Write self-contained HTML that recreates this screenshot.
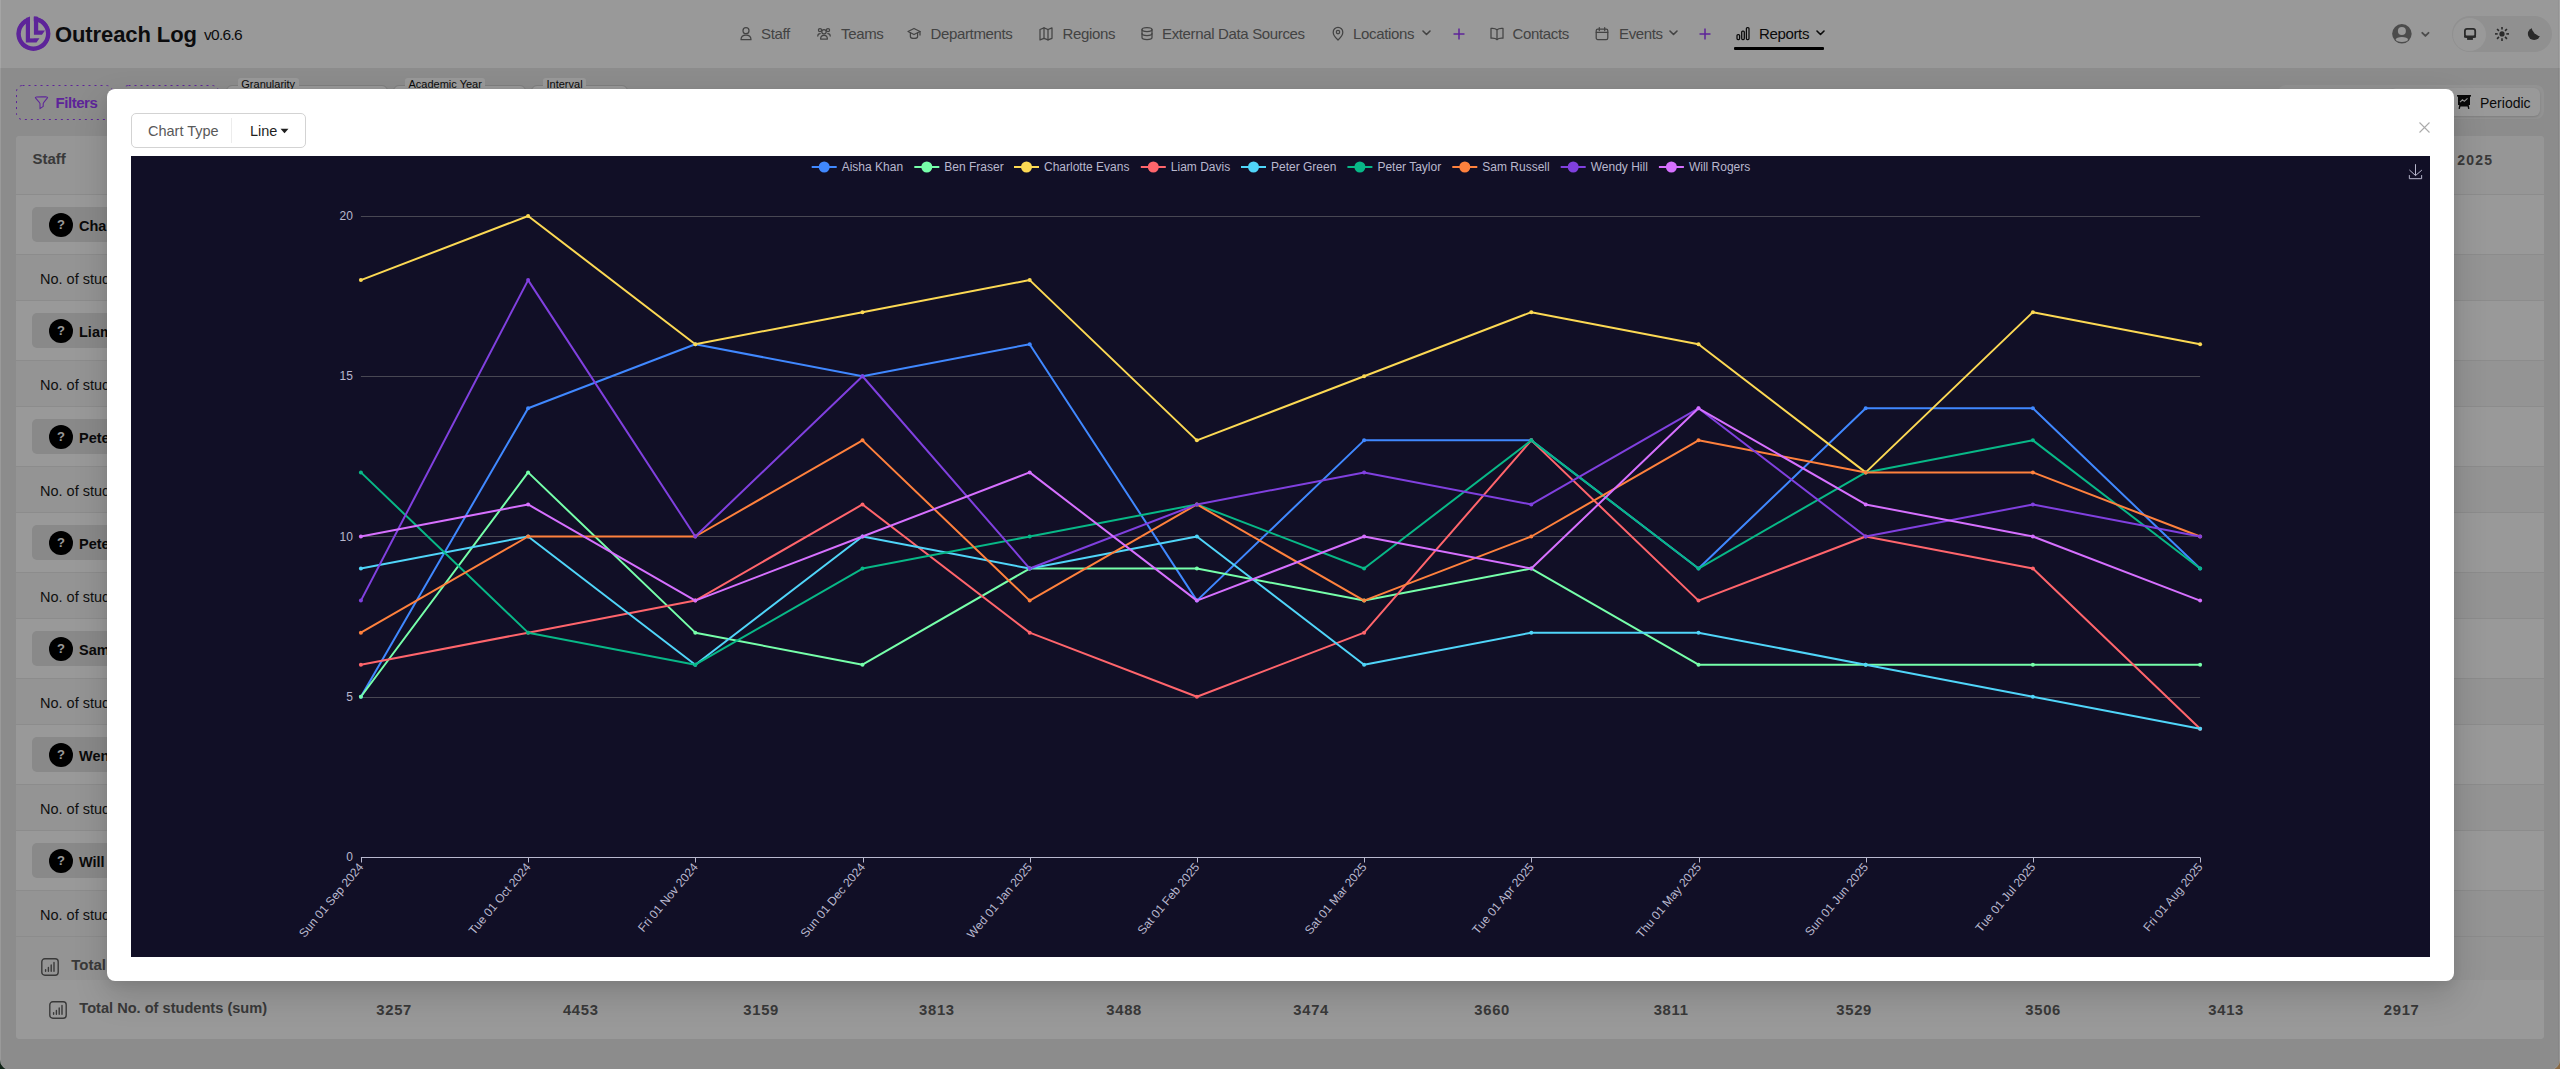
<!DOCTYPE html>
<html lang="en">
<head>
<meta charset="utf-8">
<title>Outreach Log</title>
<style>
*{box-sizing:border-box;margin:0;padding:0}
html,body{width:2560px;height:1069px;overflow:hidden}
body{position:relative;background:#e9e9e9;font-family:"Liberation Sans",Arial,sans-serif;color:#1f1f1f}
.abs{position:absolute}
#nav{left:0;top:0;width:2560px;height:68px;background:#fff}
.brand{left:55px;top:22px;font-size:22px;font-weight:700;color:#141518;letter-spacing:-0.1px;white-space:nowrap}
.ver{left:204px;top:25.5px;font-size:15.5px;letter-spacing:-0.7px;color:#141518;white-space:nowrap}
.ni{top:24px;font-size:15px;letter-spacing:-0.35px;color:#707070;white-space:nowrap;line-height:20px}
.ni svg{position:absolute}
.plus{top:24px;color:#9c3dff;font-size:20px;line-height:20px}
#main{left:0;top:68px;width:2560px;height:1001px;background:#e9e9e9}
.dash{border:1px dashed #9c3dff;border-radius:6px;background:transparent}
.sel{border:1px solid #d2d2d2;border-radius:6px;background:#fff}
.flab{font-size:11px;color:#111;background:#fff;padding:0 3.5px;line-height:13px;height:14px;border-radius:3px;white-space:nowrap}
#card{left:16px;top:136px;width:2528px;height:903px;background:#fff;border-radius:4px;overflow:hidden}
.row{position:absolute;left:0;width:2528px;border-top:1px solid #e9e9e9}
.tr{background:#fff}
.dr{background:#f7f7f7}
.tag{position:absolute;left:16px;height:35px;width:300px;background:#e4e4e4;border-radius:5px}
.q{position:absolute;left:17px;top:6px;width:24px;height:24px;border-radius:50%;background:#000;color:#fff;font-weight:700;font-size:13px;text-align:center;line-height:24px}
.tn{position:absolute;left:47px;top:11px;font-weight:700;font-size:14.5px;color:#111;white-space:nowrap}
.ds{position:absolute;left:24px;font-size:14.5px;color:#1a1a1a;white-space:nowrap}
.num{position:absolute;top:1002px;font-size:16px;font-weight:700;color:#444;white-space:nowrap}
#mask{left:0;top:0;width:2560px;height:1069px;background:rgba(0,0,0,0.4)}
#modal{left:107px;top:89px;width:2347px;height:892px;background:#fff;border-radius:8px;box-shadow:0 14px 32px 2px rgba(0,0,0,.15),0 4px 10px 0 rgba(0,0,0,.06)}
#ct{left:24px;top:24px;width:175px;height:35px;border:1px solid #d3d3d3;border-radius:5px;background:#fff}
#ct .l{position:absolute;left:16px;top:9px;font-size:14.5px;color:#595959;white-space:nowrap}
#ct .dv{position:absolute;left:99px;top:4px;width:1px;height:25px;background:#ececec}
#ct .v{position:absolute;left:118px;top:9px;font-size:14.5px;color:#1f1f1f;white-space:nowrap}
#close{left:2311.5px;top:32.5px;width:11px;height:11px}
#chart{left:24px;top:67px;width:2299px;height:801px;overflow:hidden}
</style>
</head>
<body>
<!-- ============ underlying app ============ -->
<div id="nav" class="abs">
  <svg class="abs" style="left:14px;top:14px" width="40" height="40" viewBox="14 14 40 40"><defs><mask id="lg"><circle cx="33.4" cy="33.8" r="17.5" fill="#fff"/><rect x="30" y="14" width="3.7" height="24.2" fill="#000"/></mask></defs><g mask="url(#lg)" fill="#9c3dff"><path fill-rule="evenodd" d="M50.5 33.8a17.1 17.1 0 1 1-34.2 0a17.1 17.1 0 1 1 34.2 0zM46 33.8a12.6 12.6 0 1 0-25.2 0a12.6 12.6 0 1 0 25.2 0z"/><path d="M25.8 15H30V38.2H39.52L36.5 42.4H25.8Z"/><path d="M33.7 15H38.2V30.6H44.99L41.97 34.8H33.7Z"/></g></svg>
  <div class="abs brand">Outreach Log</div>
  <div class="abs ver">v0.6.6</div>
  <svg class="abs" style="left:739px;top:26px" width="14" height="15" viewBox="0 0 14 14" fill="none" stroke="#707070" stroke-width="1.25" stroke-linecap="round" stroke-linejoin="round"><circle cx="7" cy="4.2" r="3"/><path d="M2 13.2c0-3 2.2-4.6 5-4.6s5 1.6 5 4.6z"/></svg>
<div class="abs ni" style="left:761px;color:#707070">Staff</div>
<svg class="abs" style="left:817px;top:26px" width="14" height="15" viewBox="0 0 14 14" fill="none" stroke="#707070" stroke-width="1.25" stroke-linecap="round" stroke-linejoin="round"><circle cx="7" cy="5.2" r="2.2"/><circle cx="3" cy="3.6" r="1.6"/><circle cx="11" cy="3.6" r="1.6"/><path d="M3.6 12.5c0-2.2 1.5-3.6 3.4-3.6s3.4 1.4 3.4 3.6z"/><path d="M0.8 9.6c0-1.6 1-2.6 2.4-2.6M13.2 9.6c0-1.6-1-2.6-2.4-2.6"/></svg>
<div class="abs ni" style="left:841px;color:#707070">Teams</div>
<svg class="abs" style="left:907px;top:26px" width="14" height="15" viewBox="0 0 14 14" fill="none" stroke="#707070" stroke-width="1.25" stroke-linecap="round" stroke-linejoin="round"><path d="M7 2L13 5L7 8L1 5z"/><path d="M3.4 6.3v3.6c0 1 1.6 2 3.6 2s3.6-1 3.6-2V6.3"/><path d="M13 5v3.6"/></svg>
<div class="abs ni" style="left:930.5px;color:#707070">Departments</div>
<svg class="abs" style="left:1039px;top:26px" width="14" height="15" viewBox="0 0 14 14" fill="none" stroke="#707070" stroke-width="1.25" stroke-linecap="round" stroke-linejoin="round"><path d="M1 3l4-1.6 4 1.6 4-1.6v10.4l-4 1.6-4-1.6-4 1.6z"/><path d="M5 1.4v10.4M9 3v10.4"/></svg>
<div class="abs ni" style="left:1062.5px;color:#707070">Regions</div>
<svg class="abs" style="left:1140px;top:26px" width="14" height="15" viewBox="0 0 14 14" fill="none" stroke="#707070" stroke-width="1.25" stroke-linecap="round" stroke-linejoin="round"><ellipse cx="7" cy="3" rx="5" ry="2"/><path d="M2 3v8c0 1.1 2.2 2 5 2s5-.9 5-2V3"/><path d="M2 7c0 1.1 2.2 2 5 2s5-.9 5-2"/></svg>
<div class="abs ni" style="left:1162px;color:#707070">External Data Sources</div>
<svg class="abs" style="left:1331px;top:26px" width="14" height="15" viewBox="0 0 14 14" fill="none" stroke="#707070" stroke-width="1.25" stroke-linecap="round" stroke-linejoin="round"><path d="M7 13.5s-4.8-4.4-4.8-7.8a4.8 4.8 0 0 1 9.6 0c0 3.4-4.8 7.8-4.8 7.8z"/><circle cx="7" cy="5.6" r="1.7"/></svg>
<div class="abs ni" style="left:1353px;color:#707070">Locations</div>
<svg class="abs" style="left:1422px;top:30px" width="9" height="6" viewBox="0 0 9 6"><path d="M1 1l3.5 3.5L8 1" fill="none" stroke="#707070" stroke-width="1.6" stroke-linecap="round" stroke-linejoin="round"/></svg>
<svg class="abs" style="left:1489.5px;top:26px" width="14" height="15" viewBox="0 0 14 14" fill="none" stroke="#707070" stroke-width="1.25" stroke-linecap="round" stroke-linejoin="round"><path d="M7 3.2C5.6 2 3.4 1.6 1 1.9v9.8c2.4-.3 4.6.1 6 1.3 1.4-1.2 3.6-1.6 6-1.3V1.9c-2.4-.3-4.6.1-6 1.3z"/><path d="M7 3.2V13"/></svg>
<div class="abs ni" style="left:1512.5px;color:#707070">Contacts</div>
<svg class="abs" style="left:1595px;top:26px" width="14" height="15" viewBox="0 0 14 14" fill="none" stroke="#707070" stroke-width="1.25" stroke-linecap="round" stroke-linejoin="round"><rect x="1.2" y="2.6" width="11.6" height="10.4" rx="1.6"/><path d="M1.2 5.8h11.6M4.3 1v3M9.7 1v3"/></svg>
<div class="abs ni" style="left:1619px;color:#707070">Events</div>
<svg class="abs" style="left:1669px;top:30px" width="9" height="6" viewBox="0 0 9 6"><path d="M1 1l3.5 3.5L8 1" fill="none" stroke="#707070" stroke-width="1.6" stroke-linecap="round" stroke-linejoin="round"/></svg>
<svg class="abs" style="left:1735.5px;top:26px" width="14" height="15" viewBox="0 0 14 14" fill="none" stroke="#111" stroke-width="1.25" stroke-linecap="round" stroke-linejoin="round"><rect x="1" y="8" width="2.6" height="5" rx="1"/><rect x="5.7" y="4.5" width="2.6" height="8.5" rx="1"/><rect x="10.4" y="1" width="2.6" height="12" rx="1"/></svg>
<div class="abs ni" style="left:1759px;color:#111">Reports</div>
<svg class="abs" style="left:1816px;top:30px" width="9" height="6" viewBox="0 0 9 6"><path d="M1 1l3.5 3.5L8 1" fill="none" stroke="#111" stroke-width="1.6" stroke-linecap="round" stroke-linejoin="round"/></svg>
<svg class="abs" style="left:1453px;top:28px" width="12" height="12" viewBox="0 0 12 12"><path d="M6 0.5v11M0.5 6h11" stroke="#9c3dff" stroke-width="1.5"/></svg>
<svg class="abs" style="left:1699px;top:28px" width="12" height="12" viewBox="0 0 12 12"><path d="M6 0.5v11M0.5 6h11" stroke="#9c3dff" stroke-width="1.5"/></svg>
<div class="abs" style="left:1734px;top:47px;width:90px;height:2.5px;background:#000;border-radius:1px"></div>
<svg class="abs" style="left:2392px;top:24px" width="20" height="20" viewBox="0 0 20 20"><defs><mask id="avm"><rect width="20" height="20" fill="#fff"/><circle cx="9.9" cy="6.9" r="4" fill="#000"/><ellipse cx="9.9" cy="15.5" rx="6.1" ry="2.6" fill="#000"/></mask></defs><circle cx="9.9" cy="9.85" r="9.75" fill="#7f7f7f" mask="url(#avm)"/></svg>
<svg class="abs" style="left:2420.5px;top:31px" width="9" height="7" viewBox="0 0 9 7"><path d="M1.3 1.8l3.1 3.1 3.1-3.1" fill="none" stroke="#7f7f7f" stroke-width="1.9" stroke-linecap="round" stroke-linejoin="round"/></svg>
<div class="abs" style="left:2452px;top:16px;width:100px;height:36px;border-radius:18px;background:#f0f0f0"></div>
<div class="abs" style="left:2453px;top:17.5px;width:33px;height:33px;border-radius:50%;background:#fff"></div>
<svg class="abs" style="left:2463px;top:27px" width="14" height="14" viewBox="0 0 14 14"><rect x="1.9" y="1.8" width="10.3" height="8.2" rx="2.2" fill="none" stroke="#464646" stroke-width="1.8"/><rect x="1" y="8.6" width="12.1" height="2.2" rx="0.8" fill="#464646"/><rect x="4.1" y="10.4" width="5.8" height="2.5" fill="#464646"/></svg>
<svg class="abs" style="left:2495px;top:27px" width="14" height="14" viewBox="0 0 14 14" fill="#464646"><circle cx="7" cy="6.9" r="2.6"/><path d="M11.30 6.90L14.00 6.90" stroke="#464646" stroke-width="1.6"/><path d="M10.04 9.94L11.95 11.85" stroke="#464646" stroke-width="1.6"/><path d="M7.00 11.20L7.00 13.90" stroke="#464646" stroke-width="1.6"/><path d="M3.96 9.94L2.05 11.85" stroke="#464646" stroke-width="1.6"/><path d="M2.70 6.90L0.00 6.90" stroke="#464646" stroke-width="1.6"/><path d="M3.96 3.86L2.05 1.95" stroke="#464646" stroke-width="1.6"/><path d="M7.00 2.60L7.00 -0.10" stroke="#464646" stroke-width="1.6"/><path d="M10.04 3.86L11.95 1.95" stroke="#464646" stroke-width="1.6"/></svg>
<svg class="abs" style="left:2526px;top:26px" width="16" height="16" viewBox="2526 26 16 16"><defs><mask id="mm"><rect x="2526" y="26" width="16" height="16" fill="#fff"/><circle cx="2541.7" cy="26.1" r="10.27" fill="#000"/></mask></defs><circle cx="2534.1" cy="33.9" r="6.2" fill="#464646" mask="url(#mm)"/></svg>
</div>
<div id="main" class="abs"></div>
<!-- filter bar -->
<svg class="abs" style="left:16px;top:85px" width="97" height="35"><rect x="0.5" y="0.5" width="96" height="34" rx="6" fill="none" stroke="#9c3dff" stroke-width="1" stroke-dasharray="2 4"/></svg>
<svg class="abs" style="left:33.5px;top:94.5px" width="15" height="15" viewBox="0 0 15 15" fill="none" stroke="#9c3dff" stroke-width="1.05" stroke-linejoin="round" stroke-linecap="round"><path d="M1.3 2.4C1.3 1.4 13.6 1.4 13.6 2.4C13.6 3.2 9.6 7 9.2 8.6V11.4L6 13.6V8.6C5.6 7 1.3 3.2 1.3 2.4Z"/></svg>
<div class="abs" style="left:55.5px;top:94px;font-size:15px;letter-spacing:-0.45px;font-weight:700;color:#9c3dff">Filters</div>
<svg class="abs" style="left:122px;top:85px" width="97" height="35"><rect x="0.5" y="0.5" width="96" height="34" rx="6" fill="none" stroke="#9c3dff" stroke-width="1" stroke-dasharray="2 4"/></svg>
<div class="abs sel" style="left:226px;top:85px;width:162px;height:35px"></div>
<div class="abs flab" style="left:237.8px;top:78px">Granularity</div>
<div class="abs sel" style="left:393px;top:85px;width:133px;height:35px"></div>
<div class="abs flab" style="left:405px;top:78px">Academic Year</div>
<div class="abs sel" style="left:531px;top:85px;width:97px;height:35px"></div>
<div class="abs flab" style="left:543px;top:78px">Interval</div>
<!-- segmented -->
<div class="abs" style="left:2278px;top:85px;width:266px;height:34px;background:#f4f4f4;border-radius:8px"></div>
<div class="abs" style="left:2390px;top:88px;width:150px;height:28px;background:#fff;border-radius:6px;box-shadow:0 1px 2px rgba(0,0,0,.1),0 1px 4px rgba(0,0,0,.06)"></div>
<svg class="abs" style="left:2457px;top:95px" width="14" height="14" viewBox="0 0 14 14"><rect x="0" y="0" width="14" height="1.6" fill="#111"/><rect x="1" y="1" width="12" height="9" fill="#111"/><path d="M3 7.2 L5.5 4.8 L7.3 6.3 L10.5 3.3" stroke="#fff" stroke-width="1.1" fill="none"/><path d="M3 10 L2.2 13.8 M11 10 L11.8 13.8" stroke="#111" stroke-width="1.4"/><rect x="3" y="10" width="8" height="1.5" fill="#111"/></svg>
<div class="abs" style="left:2480px;top:95px;font-size:14px;color:#111">Periodic</div>
<!-- table card -->
<div id="card" class="abs">
  <div class="abs" style="left:0;top:0;width:2528px;height:58px;background:#fafafa"></div>
<div class="abs" style="left:16.5px;top:14px;font-size:15px;font-weight:700;color:#606060">Staff</div>
<div class="abs" style="left:2441.2px;top:15.5px;font-size:14px;letter-spacing:1.2px;font-weight:700;color:#606060">2025</div>
<div class="row tr" style="top:58px;height:60px"><div class="tag" style="top:12px"><div class="q">?</div><div class="tn">Charlotte Evans</div></div></div>
<div class="row dr" style="top:118px;height:46px"><div class="ds" style="top:16px">No. of students</div></div>
<div class="row tr" style="top:164px;height:60px"><div class="tag" style="top:12px"><div class="q">?</div><div class="tn">Liam Davis</div></div></div>
<div class="row dr" style="top:224px;height:46px"><div class="ds" style="top:16px">No. of students</div></div>
<div class="row tr" style="top:270px;height:60px"><div class="tag" style="top:12px"><div class="q">?</div><div class="tn">Peter Green</div></div></div>
<div class="row dr" style="top:330px;height:46px"><div class="ds" style="top:16px">No. of students</div></div>
<div class="row tr" style="top:376px;height:60px"><div class="tag" style="top:12px"><div class="q">?</div><div class="tn">Peter Taylor</div></div></div>
<div class="row dr" style="top:436px;height:46px"><div class="ds" style="top:16px">No. of students</div></div>
<div class="row tr" style="top:482px;height:60px"><div class="tag" style="top:12px"><div class="q">?</div><div class="tn">Sam Russell</div></div></div>
<div class="row dr" style="top:542px;height:46px"><div class="ds" style="top:16px">No. of students</div></div>
<div class="row tr" style="top:588px;height:60px"><div class="tag" style="top:12px"><div class="q">?</div><div class="tn">Wendy Hill</div></div></div>
<div class="row dr" style="top:648px;height:46px"><div class="ds" style="top:16px">No. of students</div></div>
<div class="row tr" style="top:694px;height:60px"><div class="tag" style="top:12px"><div class="q">?</div><div class="tn">Will Rogers</div></div></div>
<div class="row dr" style="top:754px;height:46px"><div class="ds" style="top:16px">No. of students</div></div>
<div class="row dr" style="top:800px;height:44px"></div>
<svg class="abs" style="left:25px;top:822px" width="18" height="18" viewBox="0 0 18 18" fill="none" stroke="#606060" stroke-width="1.4" stroke-linecap="round"><rect x="0.8" y="0.8" width="16.4" height="16.4" rx="3"/><path d="M4.6 13.2v-1.6M7.4 13.2V9.4M10.2 13.2V7M13 13.2V4.4"/></svg>
<div class="abs" style="left:55.3px;top:820.3px;font-size:15px;font-weight:700;color:#606060">Total</div>
<div class="row tr" style="top:844px;height:59px;border-top:none"></div>
<svg class="abs" style="left:33px;top:865px" width="18" height="18" viewBox="0 0 18 18" fill="none" stroke="#606060" stroke-width="1.4" stroke-linecap="round"><rect x="0.8" y="0.8" width="16.4" height="16.4" rx="3"/><path d="M4.6 13.2v-1.6M7.4 13.2V9.4M10.2 13.2V7M13 13.2V4.4"/></svg>
<div class="abs" style="left:63.3px;top:863.5px;font-size:14.6px;font-weight:700;color:#606060">Total No. of students (sum)</div>
<div class="abs" style="left:337.8px;top:866px;width:80px;text-align:center;font-size:14.8px;font-weight:700;color:#606060;letter-spacing:.7px;text-indent:.7px">3257</div>
<div class="abs" style="left:524.4px;top:866px;width:80px;text-align:center;font-size:14.8px;font-weight:700;color:#606060;letter-spacing:.7px;text-indent:.7px">4453</div>
<div class="abs" style="left:704.8px;top:866px;width:80px;text-align:center;font-size:14.8px;font-weight:700;color:#606060;letter-spacing:.7px;text-indent:.7px">3159</div>
<div class="abs" style="left:880.5999999999999px;top:866px;width:80px;text-align:center;font-size:14.8px;font-weight:700;color:#606060;letter-spacing:.7px;text-indent:.7px">3813</div>
<div class="abs" style="left:1067.8px;top:866px;width:80px;text-align:center;font-size:14.8px;font-weight:700;color:#606060;letter-spacing:.7px;text-indent:.7px">3488</div>
<div class="abs" style="left:1254.8px;top:866px;width:80px;text-align:center;font-size:14.8px;font-weight:700;color:#606060;letter-spacing:.7px;text-indent:.7px">3474</div>
<div class="abs" style="left:1435.8px;top:866px;width:80px;text-align:center;font-size:14.8px;font-weight:700;color:#606060;letter-spacing:.7px;text-indent:.7px">3660</div>
<div class="abs" style="left:1614.8px;top:866px;width:80px;text-align:center;font-size:14.8px;font-weight:700;color:#606060;letter-spacing:.7px;text-indent:.7px">3811</div>
<div class="abs" style="left:1797.8px;top:866px;width:80px;text-align:center;font-size:14.8px;font-weight:700;color:#606060;letter-spacing:.7px;text-indent:.7px">3529</div>
<div class="abs" style="left:1986.8px;top:866px;width:80px;text-align:center;font-size:14.8px;font-weight:700;color:#606060;letter-spacing:.7px;text-indent:.7px">3506</div>
<div class="abs" style="left:2169.8px;top:866px;width:80px;text-align:center;font-size:14.8px;font-weight:700;color:#606060;letter-spacing:.7px;text-indent:.7px">3413</div>
<div class="abs" style="left:2345.3px;top:866px;width:80px;text-align:center;font-size:14.8px;font-weight:700;color:#606060;letter-spacing:.7px;text-indent:.7px">2917</div>
</div>
<!-- ============ mask + modal ============ -->
<div id="mask" class="abs"></div>
<div id="modal" class="abs">
  <div id="ct" class="abs"><span class="l">Chart Type</span><span class="dv"></span><span class="v">Line<svg width="9" height="6" viewBox="0 0 9 6" style="margin-left:3px;vertical-align:2px"><path d="M0.5 0.8h8L4.5 5.2z" fill="#1f1f1f"/></svg></span></div>
  <svg id="close" class="abs" viewBox="0 0 11 11"><path d="M0.5 0.5L10.5 10.5M10.5 0.5L0.5 10.5" stroke="#ababab" stroke-width="1.1"/></svg>
  <div id="chart" class="abs"><svg width="2299" height="801" viewBox="0 0 2299 801" style="display:block;font-family:'Liberation Sans',Arial,sans-serif">
<rect width="2299" height="801" fill="#110f26"/>
<line x1="229.9" y1="541.5" x2="2069.1" y2="541.5" stroke="#484753" stroke-width="1"/>
<line x1="229.9" y1="380.5" x2="2069.1" y2="380.5" stroke="#484753" stroke-width="1"/>
<line x1="229.9" y1="220.5" x2="2069.1" y2="220.5" stroke="#484753" stroke-width="1"/>
<line x1="229.9" y1="60.5" x2="2069.1" y2="60.5" stroke="#484753" stroke-width="1"/>
<line x1="229.9" y1="701.5" x2="2069.1" y2="701.5" stroke="#b9b8ce" stroke-width="1"/>
<line x1="230.5" y1="701.5" x2="230.5" y2="706.5" stroke="#b9b8ce" stroke-width="1"/>
<line x1="397.5" y1="701.5" x2="397.5" y2="706.5" stroke="#b9b8ce" stroke-width="1"/>
<line x1="564.5" y1="701.5" x2="564.5" y2="706.5" stroke="#b9b8ce" stroke-width="1"/>
<line x1="732.5" y1="701.5" x2="732.5" y2="706.5" stroke="#b9b8ce" stroke-width="1"/>
<line x1="899.5" y1="701.5" x2="899.5" y2="706.5" stroke="#b9b8ce" stroke-width="1"/>
<line x1="1066.5" y1="701.5" x2="1066.5" y2="706.5" stroke="#b9b8ce" stroke-width="1"/>
<line x1="1233.5" y1="701.5" x2="1233.5" y2="706.5" stroke="#b9b8ce" stroke-width="1"/>
<line x1="1400.5" y1="701.5" x2="1400.5" y2="706.5" stroke="#b9b8ce" stroke-width="1"/>
<line x1="1568.5" y1="701.5" x2="1568.5" y2="706.5" stroke="#b9b8ce" stroke-width="1"/>
<line x1="1735.5" y1="701.5" x2="1735.5" y2="706.5" stroke="#b9b8ce" stroke-width="1"/>
<line x1="1902.5" y1="701.5" x2="1902.5" y2="706.5" stroke="#b9b8ce" stroke-width="1"/>
<line x1="2069.5" y1="701.5" x2="2069.5" y2="706.5" stroke="#b9b8ce" stroke-width="1"/>
<text x="221.9" y="705.2" fill="#b9b8ce" font-size="12" text-anchor="end">0</text>
<text x="221.9" y="544.95" fill="#b9b8ce" font-size="12" text-anchor="end">5</text>
<text x="221.9" y="384.7" fill="#b9b8ce" font-size="12" text-anchor="end">10</text>
<text x="221.9" y="224.45" fill="#b9b8ce" font-size="12" text-anchor="end">15</text>
<text x="221.9" y="64.2" fill="#b9b8ce" font-size="12" text-anchor="end">20</text>
<text x="229.9" y="712.8" fill="#b9b8ce" font-size="12" text-anchor="end" transform="rotate(-50 229.9 708.6)">Sun 01 Sep 2024</text>
<text x="397.1" y="712.8" fill="#b9b8ce" font-size="12" text-anchor="end" transform="rotate(-50 397.1 708.6)">Tue 01 Oct 2024</text>
<text x="564.3" y="712.8" fill="#b9b8ce" font-size="12" text-anchor="end" transform="rotate(-50 564.3 708.6)">Fri 01 Nov 2024</text>
<text x="731.5" y="712.8" fill="#b9b8ce" font-size="12" text-anchor="end" transform="rotate(-50 731.5 708.6)">Sun 01 Dec 2024</text>
<text x="898.7" y="712.8" fill="#b9b8ce" font-size="12" text-anchor="end" transform="rotate(-50 898.7 708.6)">Wed 01 Jan 2025</text>
<text x="1065.9" y="712.8" fill="#b9b8ce" font-size="12" text-anchor="end" transform="rotate(-50 1065.9 708.6)">Sat 01 Feb 2025</text>
<text x="1233.1" y="712.8" fill="#b9b8ce" font-size="12" text-anchor="end" transform="rotate(-50 1233.1 708.6)">Sat 01 Mar 2025</text>
<text x="1400.3" y="712.8" fill="#b9b8ce" font-size="12" text-anchor="end" transform="rotate(-50 1400.3 708.6)">Tue 01 Apr 2025</text>
<text x="1567.5" y="712.8" fill="#b9b8ce" font-size="12" text-anchor="end" transform="rotate(-50 1567.5 708.6)">Thu 01 May 2025</text>
<text x="1734.7" y="712.8" fill="#b9b8ce" font-size="12" text-anchor="end" transform="rotate(-50 1734.7 708.6)">Sun 01 Jun 2025</text>
<text x="1901.9" y="712.8" fill="#b9b8ce" font-size="12" text-anchor="end" transform="rotate(-50 1901.9 708.6)">Tue 01 Jul 2025</text>
<text x="2069.1" y="712.8" fill="#b9b8ce" font-size="12" text-anchor="end" transform="rotate(-50 2069.1 708.6)">Fri 01 Aug 2025</text>
<polyline points="229.9,540.75 397.1,252.3 564.3,188.2 731.5,220.25 898.7,188.2 1065.9,444.6 1233.1,284.35 1400.3,284.35 1567.5,412.55 1734.7,252.3 1901.9,252.3 2069.1,412.55" fill="none" stroke="#4088ff" stroke-width="2" stroke-linejoin="bevel"/>
<polyline points="229.9,540.75 397.1,316.4 564.3,476.65 731.5,508.7 898.7,412.55 1065.9,412.55 1233.1,444.6 1400.3,412.55 1567.5,508.7 1734.7,508.7 1901.9,508.7 2069.1,508.7" fill="none" stroke="#76ffaa" stroke-width="2" stroke-linejoin="bevel"/>
<polyline points="229.9,124.1 397.1,60 564.3,188.2 731.5,156.15 898.7,124.1 1065.9,284.35 1233.1,220.25 1400.3,156.15 1567.5,188.2 1734.7,316.4 1901.9,156.15 2069.1,188.2" fill="none" stroke="#fcd954" stroke-width="2" stroke-linejoin="bevel"/>
<polyline points="229.9,508.7 397.1,476.65 564.3,444.6 731.5,348.45 898.7,476.65 1065.9,540.75 1233.1,476.65 1400.3,284.35 1567.5,444.6 1734.7,380.5 1901.9,412.55 2069.1,572.8" fill="none" stroke="#ff656c" stroke-width="2" stroke-linejoin="bevel"/>
<polyline points="229.9,412.55 397.1,380.5 564.3,508.7 731.5,380.5 898.7,412.55 1065.9,380.5 1233.1,508.7 1400.3,476.65 1567.5,476.65 1734.7,508.7 1901.9,540.75 2069.1,572.8" fill="none" stroke="#50d5f9" stroke-width="2" stroke-linejoin="bevel"/>
<polyline points="229.9,316.4 397.1,476.65 564.3,508.7 731.5,412.55 898.7,380.5 1065.9,348.45 1233.1,412.55 1400.3,284.35 1567.5,412.55 1734.7,316.4 1901.9,284.35 2069.1,412.55" fill="none" stroke="#08b887" stroke-width="2" stroke-linejoin="bevel"/>
<polyline points="229.9,476.65 397.1,380.5 564.3,380.5 731.5,284.35 898.7,444.6 1065.9,348.45 1233.1,444.6 1400.3,380.5 1567.5,284.35 1734.7,316.4 1901.9,316.4 2069.1,380.5" fill="none" stroke="#ff813d" stroke-width="2" stroke-linejoin="bevel"/>
<polyline points="229.9,444.6 397.1,124.1 564.3,380.5 731.5,220.25 898.7,412.55 1065.9,348.45 1233.1,316.4 1400.3,348.45 1567.5,252.3 1734.7,380.5 1901.9,348.45 2069.1,380.5" fill="none" stroke="#8040df" stroke-width="2" stroke-linejoin="bevel"/>
<polyline points="229.9,380.5 397.1,348.45 564.3,444.6 731.5,380.5 898.7,316.4 1065.9,444.6 1233.1,380.5 1400.3,412.55 1567.5,252.3 1734.7,348.45 1901.9,380.5 2069.1,444.6" fill="none" stroke="#d670ff" stroke-width="2" stroke-linejoin="bevel"/>
<circle cx="229.9" cy="540.75" r="2.0" fill="#4088ff"/>
<circle cx="397.1" cy="252.3" r="2.0" fill="#4088ff"/>
<circle cx="564.3" cy="188.2" r="2.0" fill="#4088ff"/>
<circle cx="731.5" cy="220.25" r="2.0" fill="#4088ff"/>
<circle cx="898.7" cy="188.2" r="2.0" fill="#4088ff"/>
<circle cx="1065.9" cy="444.6" r="2.0" fill="#4088ff"/>
<circle cx="1233.1" cy="284.35" r="2.0" fill="#4088ff"/>
<circle cx="1400.3" cy="284.35" r="2.0" fill="#4088ff"/>
<circle cx="1567.5" cy="412.55" r="2.0" fill="#4088ff"/>
<circle cx="1734.7" cy="252.3" r="2.0" fill="#4088ff"/>
<circle cx="1901.9" cy="252.3" r="2.0" fill="#4088ff"/>
<circle cx="2069.1" cy="412.55" r="2.0" fill="#4088ff"/>
<circle cx="229.9" cy="540.75" r="2.0" fill="#76ffaa"/>
<circle cx="397.1" cy="316.4" r="2.0" fill="#76ffaa"/>
<circle cx="564.3" cy="476.65" r="2.0" fill="#76ffaa"/>
<circle cx="731.5" cy="508.7" r="2.0" fill="#76ffaa"/>
<circle cx="898.7" cy="412.55" r="2.0" fill="#76ffaa"/>
<circle cx="1065.9" cy="412.55" r="2.0" fill="#76ffaa"/>
<circle cx="1233.1" cy="444.6" r="2.0" fill="#76ffaa"/>
<circle cx="1400.3" cy="412.55" r="2.0" fill="#76ffaa"/>
<circle cx="1567.5" cy="508.7" r="2.0" fill="#76ffaa"/>
<circle cx="1734.7" cy="508.7" r="2.0" fill="#76ffaa"/>
<circle cx="1901.9" cy="508.7" r="2.0" fill="#76ffaa"/>
<circle cx="2069.1" cy="508.7" r="2.0" fill="#76ffaa"/>
<circle cx="229.9" cy="124.1" r="2.0" fill="#fcd954"/>
<circle cx="397.1" cy="60" r="2.0" fill="#fcd954"/>
<circle cx="564.3" cy="188.2" r="2.0" fill="#fcd954"/>
<circle cx="731.5" cy="156.15" r="2.0" fill="#fcd954"/>
<circle cx="898.7" cy="124.1" r="2.0" fill="#fcd954"/>
<circle cx="1065.9" cy="284.35" r="2.0" fill="#fcd954"/>
<circle cx="1233.1" cy="220.25" r="2.0" fill="#fcd954"/>
<circle cx="1400.3" cy="156.15" r="2.0" fill="#fcd954"/>
<circle cx="1567.5" cy="188.2" r="2.0" fill="#fcd954"/>
<circle cx="1734.7" cy="316.4" r="2.0" fill="#fcd954"/>
<circle cx="1901.9" cy="156.15" r="2.0" fill="#fcd954"/>
<circle cx="2069.1" cy="188.2" r="2.0" fill="#fcd954"/>
<circle cx="229.9" cy="508.7" r="2.0" fill="#ff656c"/>
<circle cx="397.1" cy="476.65" r="2.0" fill="#ff656c"/>
<circle cx="564.3" cy="444.6" r="2.0" fill="#ff656c"/>
<circle cx="731.5" cy="348.45" r="2.0" fill="#ff656c"/>
<circle cx="898.7" cy="476.65" r="2.0" fill="#ff656c"/>
<circle cx="1065.9" cy="540.75" r="2.0" fill="#ff656c"/>
<circle cx="1233.1" cy="476.65" r="2.0" fill="#ff656c"/>
<circle cx="1400.3" cy="284.35" r="2.0" fill="#ff656c"/>
<circle cx="1567.5" cy="444.6" r="2.0" fill="#ff656c"/>
<circle cx="1734.7" cy="380.5" r="2.0" fill="#ff656c"/>
<circle cx="1901.9" cy="412.55" r="2.0" fill="#ff656c"/>
<circle cx="2069.1" cy="572.8" r="2.0" fill="#ff656c"/>
<circle cx="229.9" cy="412.55" r="2.0" fill="#50d5f9"/>
<circle cx="397.1" cy="380.5" r="2.0" fill="#50d5f9"/>
<circle cx="564.3" cy="508.7" r="2.0" fill="#50d5f9"/>
<circle cx="731.5" cy="380.5" r="2.0" fill="#50d5f9"/>
<circle cx="898.7" cy="412.55" r="2.0" fill="#50d5f9"/>
<circle cx="1065.9" cy="380.5" r="2.0" fill="#50d5f9"/>
<circle cx="1233.1" cy="508.7" r="2.0" fill="#50d5f9"/>
<circle cx="1400.3" cy="476.65" r="2.0" fill="#50d5f9"/>
<circle cx="1567.5" cy="476.65" r="2.0" fill="#50d5f9"/>
<circle cx="1734.7" cy="508.7" r="2.0" fill="#50d5f9"/>
<circle cx="1901.9" cy="540.75" r="2.0" fill="#50d5f9"/>
<circle cx="2069.1" cy="572.8" r="2.0" fill="#50d5f9"/>
<circle cx="229.9" cy="316.4" r="2.0" fill="#08b887"/>
<circle cx="397.1" cy="476.65" r="2.0" fill="#08b887"/>
<circle cx="564.3" cy="508.7" r="2.0" fill="#08b887"/>
<circle cx="731.5" cy="412.55" r="2.0" fill="#08b887"/>
<circle cx="898.7" cy="380.5" r="2.0" fill="#08b887"/>
<circle cx="1065.9" cy="348.45" r="2.0" fill="#08b887"/>
<circle cx="1233.1" cy="412.55" r="2.0" fill="#08b887"/>
<circle cx="1400.3" cy="284.35" r="2.0" fill="#08b887"/>
<circle cx="1567.5" cy="412.55" r="2.0" fill="#08b887"/>
<circle cx="1734.7" cy="316.4" r="2.0" fill="#08b887"/>
<circle cx="1901.9" cy="284.35" r="2.0" fill="#08b887"/>
<circle cx="2069.1" cy="412.55" r="2.0" fill="#08b887"/>
<circle cx="229.9" cy="476.65" r="2.0" fill="#ff813d"/>
<circle cx="397.1" cy="380.5" r="2.0" fill="#ff813d"/>
<circle cx="564.3" cy="380.5" r="2.0" fill="#ff813d"/>
<circle cx="731.5" cy="284.35" r="2.0" fill="#ff813d"/>
<circle cx="898.7" cy="444.6" r="2.0" fill="#ff813d"/>
<circle cx="1065.9" cy="348.45" r="2.0" fill="#ff813d"/>
<circle cx="1233.1" cy="444.6" r="2.0" fill="#ff813d"/>
<circle cx="1400.3" cy="380.5" r="2.0" fill="#ff813d"/>
<circle cx="1567.5" cy="284.35" r="2.0" fill="#ff813d"/>
<circle cx="1734.7" cy="316.4" r="2.0" fill="#ff813d"/>
<circle cx="1901.9" cy="316.4" r="2.0" fill="#ff813d"/>
<circle cx="2069.1" cy="380.5" r="2.0" fill="#ff813d"/>
<circle cx="229.9" cy="444.6" r="2.0" fill="#8040df"/>
<circle cx="397.1" cy="124.1" r="2.0" fill="#8040df"/>
<circle cx="564.3" cy="380.5" r="2.0" fill="#8040df"/>
<circle cx="731.5" cy="220.25" r="2.0" fill="#8040df"/>
<circle cx="898.7" cy="412.55" r="2.0" fill="#8040df"/>
<circle cx="1065.9" cy="348.45" r="2.0" fill="#8040df"/>
<circle cx="1233.1" cy="316.4" r="2.0" fill="#8040df"/>
<circle cx="1400.3" cy="348.45" r="2.0" fill="#8040df"/>
<circle cx="1567.5" cy="252.3" r="2.0" fill="#8040df"/>
<circle cx="1734.7" cy="380.5" r="2.0" fill="#8040df"/>
<circle cx="1901.9" cy="348.45" r="2.0" fill="#8040df"/>
<circle cx="2069.1" cy="380.5" r="2.0" fill="#8040df"/>
<circle cx="229.9" cy="380.5" r="2.0" fill="#d670ff"/>
<circle cx="397.1" cy="348.45" r="2.0" fill="#d670ff"/>
<circle cx="564.3" cy="444.6" r="2.0" fill="#d670ff"/>
<circle cx="731.5" cy="380.5" r="2.0" fill="#d670ff"/>
<circle cx="898.7" cy="316.4" r="2.0" fill="#d670ff"/>
<circle cx="1065.9" cy="444.6" r="2.0" fill="#d670ff"/>
<circle cx="1233.1" cy="380.5" r="2.0" fill="#d670ff"/>
<circle cx="1400.3" cy="412.55" r="2.0" fill="#d670ff"/>
<circle cx="1567.5" cy="252.3" r="2.0" fill="#d670ff"/>
<circle cx="1734.7" cy="348.45" r="2.0" fill="#d670ff"/>
<circle cx="1901.9" cy="380.5" r="2.0" fill="#d670ff"/>
<circle cx="2069.1" cy="444.6" r="2.0" fill="#d670ff"/>
<line x1="680.7" y1="11" x2="705.7" y2="11" stroke="#4088ff" stroke-width="2"/>
<circle cx="693.2" cy="11" r="5.5" fill="#4088ff"/>
<text x="710.7" y="14.5" fill="#b9b8ce" font-size="12">Aisha Khan</text>
<line x1="783.3" y1="11" x2="808.3" y2="11" stroke="#76ffaa" stroke-width="2"/>
<circle cx="795.8" cy="11" r="5.5" fill="#76ffaa"/>
<text x="813.3" y="14.5" fill="#b9b8ce" font-size="12">Ben Fraser</text>
<line x1="883" y1="11" x2="908" y2="11" stroke="#fcd954" stroke-width="2"/>
<circle cx="895.5" cy="11" r="5.5" fill="#fcd954"/>
<text x="913" y="14.5" fill="#b9b8ce" font-size="12">Charlotte Evans</text>
<line x1="1009.8" y1="11" x2="1034.8" y2="11" stroke="#ff656c" stroke-width="2"/>
<circle cx="1022.3" cy="11" r="5.5" fill="#ff656c"/>
<text x="1039.8" y="14.5" fill="#b9b8ce" font-size="12">Liam Davis</text>
<line x1="1110" y1="11" x2="1135" y2="11" stroke="#50d5f9" stroke-width="2"/>
<circle cx="1122.5" cy="11" r="5.5" fill="#50d5f9"/>
<text x="1140" y="14.5" fill="#b9b8ce" font-size="12">Peter Green</text>
<line x1="1216.4" y1="11" x2="1241.4" y2="11" stroke="#08b887" stroke-width="2"/>
<circle cx="1228.9" cy="11" r="5.5" fill="#08b887"/>
<text x="1246.4" y="14.5" fill="#b9b8ce" font-size="12">Peter Taylor</text>
<line x1="1321.3" y1="11" x2="1346.3" y2="11" stroke="#ff813d" stroke-width="2"/>
<circle cx="1333.8" cy="11" r="5.5" fill="#ff813d"/>
<text x="1351.3" y="14.5" fill="#b9b8ce" font-size="12">Sam Russell</text>
<line x1="1429.7" y1="11" x2="1454.7" y2="11" stroke="#8040df" stroke-width="2"/>
<circle cx="1442.2" cy="11" r="5.5" fill="#8040df"/>
<text x="1459.7" y="14.5" fill="#b9b8ce" font-size="12">Wendy Hill</text>
<line x1="1527.9" y1="11" x2="1552.9" y2="11" stroke="#d670ff" stroke-width="2"/>
<circle cx="1540.4" cy="11" r="5.5" fill="#d670ff"/>
<text x="1557.9" y="14.5" fill="#b9b8ce" font-size="12">Will Rogers</text>
<g transform="translate(2277.2,8.2) scale(0.25)" fill="none" stroke="#b9b8ce" stroke-width="4"><path d="M4.7,22.9L29.3,45.5L54.7,23.4M4.6,43.6L4.6,58L53.8,58L53.8,43.6M29.2,45.1L29.2,0"/></g>
</svg></div>
</div>
<div class="abs" style="left:0;top:0;width:1px;height:1069px;background:rgba(255,255,255,.12)"></div>
<div class="abs" style="left:2558px;top:0;width:1px;height:1069px;background:rgba(0,0,0,.03)"></div>
<div class="abs" style="left:2559px;top:0;width:1px;height:1069px;background:rgba(255,255,255,.1)"></div>
<svg class="abs" style="left:0;top:1049px" width="20" height="20" viewBox="0 0 20 20"><path d="M0 0V20H20V20H10.5A10.5 10.5 0 0 1 0 9.5Z" fill="none"/><path d="M0 10.5A10.5 10.5 0 0 0 10.5 21H0Z" fill="#112418"/><path d="M0 10.5A10.5 10.5 0 0 0 10.5 21" fill="none" stroke="rgba(255,255,255,.12)" stroke-width="1"/></svg>
<svg class="abs" style="left:2540px;top:1049px" width="20" height="20" viewBox="0 0 20 20"><path d="M20 10.5A10.5 10.5 0 0 1 9.5 21H20Z" fill="#8a6a44"/><path d="M20 10.5A10.5 10.5 0 0 1 9.5 21" fill="none" stroke="rgba(255,255,255,.12)" stroke-width="1"/></svg>
</body>
</html>
